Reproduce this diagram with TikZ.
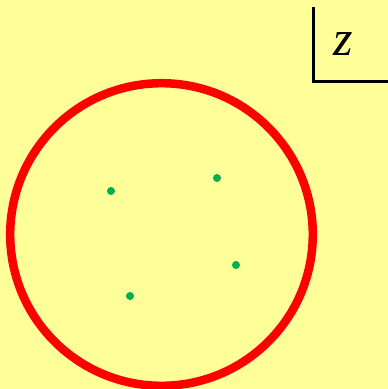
\documentclass[tikz,border=0pt]{standalone}
\usepackage{fontspec}
\setmainfont{Liberation Serif}
\definecolor{paper}{HTML}{FFFF99}
\definecolor{ringred}{HTML}{FF0000}
\definecolor{dotgreen}{HTML}{00B050}
\tikzset{
  pole/.style={circle, fill=dotgreen, inner sep=0pt, minimum size=8pt},
}
\begin{document}
\begin{tikzpicture}[x=1pt,y=-1pt]
\fill[paper] (0,0) rectangle (388,389);
\useasboundingbox (0,0) rectangle (388,389);

\coordinate (O) at (161.5,234.5);
\draw[ringred, line width=8.5pt] (O) circle (151.3);

\node[pole] (p1) at (111,191) {};
\node[pole] (p2) at (217,178) {};
\node[pole] (p3) at (236,265) {};
\node[pole] (p4) at (130,296) {};

\coordinate (T) at (313.5,7);
\coordinate (K) at (313.5,81.5);
\coordinate (R) at (388,81.5);
\draw[line width=3.5pt] (T) -- (K) -- (R);
\node[font=\fontsize{50}{50}\selectfont\itshape] (z) at (343,44) {z};
\end{tikzpicture}
\end{document}
